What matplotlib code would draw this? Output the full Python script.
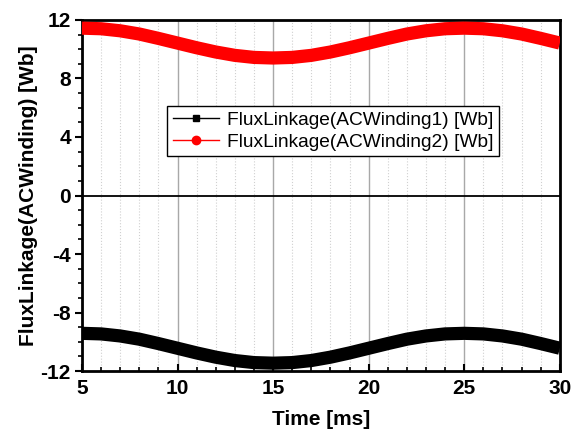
import matplotlib.pyplot as plt
from matplotlib.lines import Line2D
from matplotlib.ticker import MultipleLocator

plt.rcParams['font.family'] = ['Liberation Sans', 'DejaVu Sans']
plt.rcParams['axes.unicode_minus'] = False

# Tiempo [ms] y flujo
tiempo = [5, 6, 7, 8, 9, 10, 11, 12, 13, 14, 15, 16, 17, 18, 19, 20,
          21, 22, 23, 24, 25, 26, 27, 28, 29, 30]
flujo_1 = [-9.42, -9.46, -9.60, -9.82, -10.12, -10.44, -10.76, -11.05, -11.28, -11.42, -11.46,
           -11.42, -11.28, -11.05, -10.76, -10.44, -10.12, -9.82, -9.60, -9.46, -9.42,
           -9.46, -9.60, -9.82, -10.12, -10.44]
flujo_2 = [11.44, 11.40, 11.26, 11.04, 10.74, 10.42, 10.10, 9.81, 9.58, 9.44, 9.40,
           9.44, 9.58, 9.81, 10.10, 10.42, 10.74, 11.04, 11.26, 11.40, 11.44,
           11.40, 11.26, 11.04, 10.74, 10.42]

fig = plt.figure(figsize=(5.73, 4.34), dpi=100)
ax = fig.add_axes([0.143, 0.145, 0.834, 0.809])

ax.plot(tiempo, flujo_1, color='black', linewidth=9.5, solid_capstyle='butt', zorder=3)
ax.plot(tiempo, flujo_2, color='red', linewidth=9.5, solid_capstyle='butt', zorder=3)
ax.axhline(0, color='black', linewidth=1.3, zorder=2)

ax.set_xlim(5, 30)
ax.set_ylim(-12, 12)
ax.xaxis.set_major_locator(MultipleLocator(5))
ax.xaxis.set_minor_locator(MultipleLocator(1))
ax.yaxis.set_major_locator(MultipleLocator(4))
ax.yaxis.set_minor_locator(MultipleLocator(1))

ax.grid(True, which='major', axis='x', color='#a8a8a8', linewidth=1.0, zorder=1)
ax.grid(True, which='minor', axis='x', color='#d0d0d0', linewidth=0.8, linestyle=':', zorder=1)

ax.tick_params(axis='x', which='major', direction='in', length=5, width=1.5, pad=6)
ax.tick_params(axis='x', which='minor', direction='in', length=3, width=1.2)
ax.tick_params(axis='y', which='major', direction='out', length=5, width=1.5, pad=3)
ax.tick_params(axis='y', which='minor', direction='out', length=3, width=1.2)
ax.tick_params(labelsize=15)
for lab in ax.get_xticklabels() + ax.get_yticklabels():
    lab.set_fontweight('bold')

for s in ax.spines.values():
    s.set_linewidth(2)

ax.set_xlabel('Time [ms]', fontsize=15, fontweight='bold', labelpad=8)
ax.set_ylabel('FluxLinkage(ACWinding) [Wb]', fontsize=15, fontweight='bold', labelpad=2)

handles = [
    Line2D([], [], color='black', marker='s', markersize=5, linewidth=1,
           label='FluxLinkage(ACWinding1) [Wb]'),
    Line2D([], [], color='red', marker='o', markersize=6, linewidth=1,
           label='FluxLinkage(ACWinding2) [Wb]'),
]
leg = ax.legend(handles=handles, loc='upper left', bbox_to_anchor=(0.178, 0.755),
                fontsize=13.75, frameon=True, fancybox=False, framealpha=1,
                edgecolor='black', borderpad=0.3, labelspacing=0.22,
                handlelength=2.4, handletextpad=0.45, borderaxespad=0)
leg.get_frame().set_linewidth(1)

plt.savefig('out.png', dpi=100)
